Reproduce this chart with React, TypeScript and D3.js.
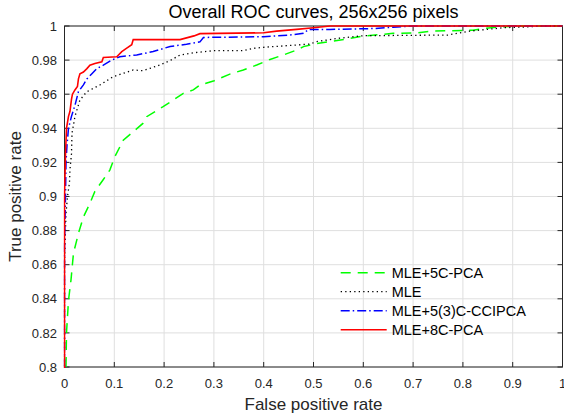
import * as d3 from "d3";

// ROC points: [false positive rate, true positive rate]
const greenPCA: [number, number][] = [
  [0.002, 0.79], [0.003, 0.8], [0.004, 0.82], [0.008, 0.839], [0.013, 0.851], [0.018, 0.8667],
  [0.028, 0.8784], [0.038, 0.888], [0.051, 0.896], [0.061, 0.903], [0.078, 0.91],
  [0.091, 0.9155], [0.101, 0.9233], [0.118, 0.933], [0.138, 0.938], [0.158, 0.943],
  [0.165, 0.9468], [0.198, 0.9527], [0.2185, 0.9566], [0.2386, 0.9605], [0.2586, 0.9625],
  [0.272, 0.9654], [0.299, 0.9677], [0.332, 0.9718], [0.359, 0.9742], [0.386, 0.9771],
  [0.4126, 0.9804], [0.4394, 0.983], [0.466, 0.9859], [0.48, 0.9879], [0.5, 0.9894],
  [0.533, 0.9908], [0.573, 0.9927], [0.6, 0.9941], [0.66, 0.9957], [0.707, 0.996],
  [0.74, 0.997], [0.8, 0.9974], [0.82, 0.9975], [0.841, 0.9985], [0.874, 0.9995],
  [0.92, 1], [1, 1],
];

const blackMLE: [number, number][] = [
  [0, 0.79], [0, 0.86], [0.003, 0.89], [0.006, 0.9], [0.01, 0.908], [0.011, 0.916],
  [0.014, 0.925], [0.015, 0.937], [0.021, 0.947], [0.031, 0.9566], [0.045, 0.9615],
  [0.071, 0.9654], [0.098, 0.9703], [0.138, 0.9742], [0.158, 0.9738], [0.19, 0.977],
  [0.212, 0.9797], [0.232, 0.983], [0.259, 0.9843], [0.299, 0.9855], [0.359, 0.9855],
  [0.379, 0.9869], [0.399, 0.9875], [0.493, 0.9894], [0.506, 0.9908], [0.547, 0.9927],
  [0.6, 0.9943], [0.77, 0.9947], [0.794, 0.996], [0.814, 0.997], [0.848, 0.998],
  [0.881, 0.999], [0.93, 0.9995], [0.96, 1], [1, 1],
];

const blueCCIPCA: [number, number][] = [
  [0, 0.79], [0, 0.87], [0.002, 0.9], [0.003, 0.92], [0.005, 0.93], [0.008, 0.94],
  [0.014, 0.947], [0.021, 0.9535], [0.028, 0.9615], [0.038, 0.9655], [0.045, 0.969],
  [0.055, 0.972], [0.065, 0.975], [0.078, 0.977], [0.095, 0.98], [0.111, 0.982],
  [0.145, 0.983], [0.178, 0.985], [0.212, 0.988], [0.245, 0.9893], [0.272, 0.9907],
  [0.279, 0.9933], [0.4, 0.9937], [0.453, 0.9947], [0.48, 0.9957], [0.49, 0.998],
  [0.533, 0.998], [0.62, 0.9985], [0.66, 0.9993], [0.7, 1], [1, 1],
];

const redPCA8: [number, number][] = [
  [0, 0.79], [0, 0.9], [0.002, 0.925], [0.004, 0.94], [0.008, 0.947], [0.011, 0.95],
  [0.014, 0.957], [0.016, 0.96], [0.021, 0.9625], [0.026, 0.9645], [0.028, 0.969],
  [0.031, 0.972], [0.038, 0.973], [0.045, 0.975], [0.051, 0.977], [0.061, 0.978],
  [0.075, 0.979], [0.078, 0.9815], [0.105, 0.982], [0.115, 0.985], [0.125, 0.987],
  [0.135, 0.989], [0.138, 0.992], [0.232, 0.992], [0.26, 0.9942], [0.272, 0.9955],
  [0.4, 0.996], [0.426, 0.997], [0.466, 0.998], [0.5, 0.999], [0.533, 1], [1, 1],
];

const seriesNames = ["MLE+5C-PCA", "MLE", "MLE+5(3)C-CCIPCA", "MLE+8C-PCA"];
const xTicks = [0, 0.1, 0.2, 0.3, 0.4, 0.5, 0.6, 0.7, 0.8, 0.9, 1];
const yTicks = [0.8, 0.82, 0.84, 0.86, 0.88, 0.9, 0.92, 0.94, 0.96, 0.98, 1];

const W = 564;
const H = 418;
const left = 64.5, right = 562.5, top = 26, bottom = 367;

export default function App() {
  const x = d3.scaleLinear([0, 1], [left, right]);
  const y = d3.scaleLinear([0.8, 1], [bottom, top]);
  const line = d3.line<[number, number]>().x(d => x(d[0])).y(d => y(d[1]));

  const styles = [
    { data: greenPCA, color: "#00ff00", dash: "10,7", w: 1.5 },
    { data: blackMLE, color: "#000000", dash: "1.3,3.2", w: 1.3 },
    { data: blueCCIPCA, color: "#0000ff", dash: "9,3,1.5,3", w: 1.5 },
    { data: redPCA8, color: "#ff0000", dash: null, w: 1.6 },
  ];
  const axisColor = "#262626";
  const font = "'Liberation Sans', Arial, Helvetica, sans-serif";

  return (
    <svg width={W} height={H} style={{ position: "absolute", left: 0, top: 0, background: "#fff" }} fontFamily={font}>
      <defs>
        <clipPath id="plot">
          <rect x={left - 1} y={top - 1} width={right - left + 2} height={bottom - top + 2} />
        </clipPath>
      </defs>
      {/* grid */}
      {xTicks.map(t => (
        <line key={"gx" + t} x1={x(t)} x2={x(t)} y1={top} y2={bottom} stroke="#dfdfdf" strokeWidth={1} />
      ))}
      {yTicks.map(t => (
        <line key={"gy" + t} x1={left} x2={right} y1={y(t)} y2={y(t)} stroke="#dfdfdf" strokeWidth={1} />
      ))}
      {/* ticks on all four sides */}
      {xTicks.map(t => (
        <g key={"tx" + t}>
          <line x1={x(t)} x2={x(t)} y1={bottom} y2={bottom - 5} stroke={axisColor} />
          <line x1={x(t)} x2={x(t)} y1={top} y2={top + 5} stroke={axisColor} />
          <text x={x(t)} y={388} fontSize={13} textAnchor="middle" fill={axisColor}>{d3.format("~g")(t)}</text>
        </g>
      ))}
      {yTicks.map(t => (
        <g key={"ty" + t}>
          <line x1={left} x2={left + 5} y1={y(t)} y2={y(t)} stroke={axisColor} />
          <line x1={right} x2={right - 5} y1={y(t)} y2={y(t)} stroke={axisColor} />
          <text x={57} y={y(t) + 4.6} fontSize={13} textAnchor="end" fill={axisColor}>{d3.format("~g")(t)}</text>
        </g>
      ))}
      <rect x={left} y={top} width={right - left} height={bottom - top} fill="none" stroke={axisColor} strokeWidth={1} />
      {/* curves */}
      <g clipPath="url(#plot)">
        {styles.map((s, i) => (
          <path key={i} d={line(s.data) ?? ""} fill="none" stroke={s.color} strokeWidth={s.w}
            strokeDasharray={s.dash ?? undefined} />
        ))}
      </g>
      {/* legend */}
      {styles.map((s, i) => {
        const ly = 272.7 + i * 19;
        return (
          <g key={"lg" + i}>
            <line x1={340.7} x2={386.7} y1={ly} y2={ly} stroke={s.color} strokeWidth={s.w}
              strokeDasharray={s.dash ?? undefined} />
            <text x={391.7} y={ly + 5.2} fontSize={14.5} fill="#000">{seriesNames[i]}</text>
          </g>
        );
      })}
      {/* labels */}
      <text x={313.5} y={17.5} fontSize={18} textAnchor="middle" fill="#000">Overall ROC curves, 256x256 pixels</text>
      <text x={313.5} y={410} fontSize={17} textAnchor="middle" fill={axisColor}>False positive rate</text>
      <text transform={`translate(20.5,196.5) rotate(-90)`} fontSize={17} textAnchor="middle" fill={axisColor}>True positive rate</text>
    </svg>
  );
}
